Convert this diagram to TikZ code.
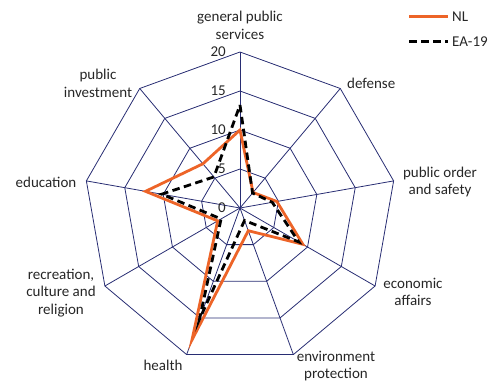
\documentclass[tikz,border=0pt]{standalone}
\usepackage{fontspec}
\setmainfont{Carlito}
\usepackage{tikz}
\usetikzlibrary{positioning}
\definecolor{nlorange}{RGB}{237,100,40}
\definecolor{gridnavy}{RGB}{40,45,115}
\tikzstyle{gridline} = [draw=gridnavy, line width=0.8pt]
\tikzstyle{nlline} = [draw=nlorange, line width=2.8pt, line join=miter]
\tikzstyle{ealine} = [draw=black, line width=2.8pt, dash pattern=on 7.5pt off 4.5pt]
\tikzstyle{axislabel} = [font=\fontsize{15}{17.7}\selectfont, align=center, inner sep=0pt, text=black!85]
\tikzstyle{ticklabel} = [font=\fontsize{15}{17}\selectfont, anchor=east, inner sep=0pt, text=black!85]

\begin{document}
\begin{tikzpicture}[x=1pt, y=1pt]
\useasboundingbox (-240,-174) rectangle (249,208);
\def\u{7.8}
% grid rings and spokes
\foreach \r in {39,78,117,156}
  \draw[gridline] (90:\r) \foreach \a in {50,10,...,-230} {-- (\a:\r)} -- cycle;
\foreach \a in {90,50,...,-230}
  \draw[gridline] (0,0) -- (\a:156);

% scale
\foreach \v in {0,5,...,20}
  \node[ticklabel] (tick\v) at (-14,{\v*\u}) {\v};

% series
\draw[nlline] (90:{10*\u}) -- (50:{2.6*\u}) -- (10:{4.8*\u}) -- (-30:{9.3*\u}) -- (-70:{3.1*\u})
  -- (-110:{18.0*\u}) -- (-150:{3.3*\u}) -- (170:{12.3*\u}) -- (130:{7.4*\u}) -- cycle;
\draw[ealine] (90:{13.2*\u}) -- (50:{2.5*\u}) -- (10:{4.2*\u}) -- (-30:{8.7*\u}) -- (-70:{1.7*\u})
  -- (-110:{15.2*\u}) -- (-150:{2.8*\u}) -- (170:{10.2*\u}) -- (130:{5.2*\u}) -- cycle;

% axis labels
\node[axislabel] (gps) at (0,182.5) {general public\\services};
\node[axislabel, anchor=west] (def) at (107,125) {defense};
\node[axislabel] (order) at (200,26) {public order\\and safety};
\node[axislabel] (econ) at (173,-84) {economic\\affairs};
\node[axislabel] (env) at (96,-158) {environment\\protection};
\node[axislabel] (health) at (-77,-157) {health};
\node[axislabel] (recr) at (-179,-85) {recreation,\\culture and\\religion};
\node[axislabel] (edu) at (-194,26) {education};
\node[axislabel] (inv) at (-142,124.5) {public\\investment};

% legend
\coordinate (nla) at (169,191.3);
\coordinate (nlb) at (208,191.3);
\coordinate (eaa) at (169,166.3);
\coordinate (eab) at (208,166.3);
\draw[nlline] (nla) -- (nlb);
\draw[ealine] (eaa) -- (eab);
\node[axislabel, right=4pt of nlb] (nlkey) {NL};
\node[axislabel, right=4pt of eab] (eakey) {EA-19};
\end{tikzpicture}
\end{document}
